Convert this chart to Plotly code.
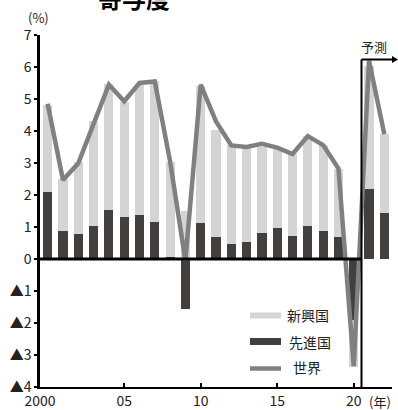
import plotly.graph_objects as go

# Contributions to world real GDP growth (% pts), 2021-22 are forecasts
years = list(range(2000, 2023))
advanced = [2.08, 0.88, 0.77, 1.02, 1.53, 1.32, 1.37, 1.17, 0.06, -1.55,
            1.14, 0.68, 0.47, 0.52, 0.82, 0.97, 0.72, 1.03, 0.88, 0.68,
            -1.90, 2.19, 1.45]
emerging = [2.73, 1.62, 2.25, 3.30, 3.94, 3.60, 4.07, 4.40, 2.98, 1.51,
            4.28, 3.35, 3.09, 2.94, 2.69, 2.49, 2.56, 2.81, 2.68, 2.12,
            -1.47, 3.84, 2.46]
world = [4.85, 2.47, 2.99, 4.25, 5.45, 4.93, 5.50, 5.55, 3.05, -0.05,
         5.45, 4.30, 3.55, 3.50, 3.60, 3.48, 3.28, 3.84, 3.56, 2.83,
         -3.35, 6.20, 3.90]

y_ticks = [-4, -3, -2, -1, 0, 1, 2, 3, 4, 5, 6, 7]
y_labels = ["▲4", "▲3", "▲2", "▲1", "0", "1", "2", "3", "4", "5", "6", "7"]
x_ticks = [1999.5, 2005, 2010, 2015, 2020]
x_labels = ["2000", "05", "10", "15", "20"]

DARK = "#433f3e"
LIGHT = "#d4d4d4"
LINE = "#808080"
TXT = "#222222"
FONT = "Noto Sans CJK JP"

fig = go.Figure()
fig.add_trace(go.Bar(x=years, y=advanced, name="先進国", marker_color=DARK,
                     marker_line_width=0, width=0.6))
fig.add_trace(go.Bar(x=years, y=emerging, name="新興国", marker_color=LIGHT,
                     marker_line_width=0, width=0.6))
fig.add_trace(go.Scatter(x=years, y=world, name="世界", mode="lines",
                         line=dict(color=LINE, width=4.5)))

W, H = 398, 410
L, R, T, B = 40, 6, 35, 23
pw, ph = W - L - R, H - T - B


def px(xp):
    return (xp - L) / pw


def py(yp):
    return (H - B - yp) / ph


shapes = [
    # zero line up to the forecast boundary
    dict(type="line", xref="x", yref="y", x0=1999.5, x1=2020.5, y0=0, y1=0,
         line=dict(color="black", width=3)),
    # forecast bracket
    dict(type="line", xref="paper", yref="paper", x0=px(361.5), x1=px(361.5),
         y0=0, y1=py(59.5), line=dict(color="black", width=2)),
    dict(type="line", xref="paper", yref="paper", x0=px(361.5), x1=px(393),
         y0=py(59.5), y1=py(59.5), line=dict(color="black", width=2)),
    dict(type="path", xref="paper", yref="paper",
         path=f"M {px(392)} {py(56)} L {px(398)} {py(59.5)} L {px(392)} {py(63)} Z",
         fillcolor="black", line=dict(width=0)),
    # legend swatches
    dict(type="rect", xref="paper", yref="paper", x0=px(250), x1=px(281),
         y0=py(318.5), y1=py(312.5), fillcolor=LIGHT, line=dict(width=0)),
    dict(type="rect", xref="paper", yref="paper", x0=px(250), x1=px(281),
         y0=py(345), y1=py(338), fillcolor=DARK, line=dict(width=0)),
    dict(type="line", xref="paper", yref="paper", x0=px(250), x1=px(281),
         y0=py(368.5), y1=py(368.5), line=dict(color=LINE, width=4.5)),
]

annotations = [
    dict(text="<b>寄与度</b>", x=px(134), y=py(-3), xref="paper", yref="paper",
         showarrow=False, font=dict(size=24, color="black", family=FONT),
         xanchor="center", yanchor="middle"),
    dict(text="(%)", x=px(38), y=py(18), xref="paper", yref="paper",
         showarrow=False, font=dict(size=13, color=TXT, family=FONT),
         xanchor="center", yanchor="middle"),
    dict(text="予測", x=px(374), y=py(46), xref="paper", yref="paper",
         showarrow=False, font=dict(size=13, color=TXT, family=FONT),
         xanchor="center", yanchor="middle"),
    dict(text="(年)", x=px(367), y=py(401), xref="paper", yref="paper",
         showarrow=False, font=dict(size=13, color=TXT, family=FONT),
         xanchor="left", yanchor="middle"),
    dict(text="新興国", x=px(285), y=py(315), xref="paper", yref="paper",
         showarrow=False, font=dict(size=14, color=TXT, family=FONT),
         xanchor="left", yanchor="middle"),
    dict(text="先進国", x=px(287), y=py(342), xref="paper", yref="paper",
         showarrow=False, font=dict(size=14, color=TXT, family=FONT),
         xanchor="left", yanchor="middle"),
    dict(text="世界", x=px(291), y=py(367), xref="paper", yref="paper",
         showarrow=False, font=dict(size=14, color=TXT, family=FONT),
         xanchor="left", yanchor="middle"),
]

fig.update_layout(
    width=W, height=H,
    margin=dict(l=L, r=R, t=T, b=B, pad=0, autoexpand=False),
    paper_bgcolor="white", plot_bgcolor="white",
    barmode="relative", bargap=0, showlegend=False,
    font=dict(family=FONT, size=14, color=TXT),
    shapes=shapes, annotations=annotations,
    xaxis=dict(range=[1999.5, 2022.5], tickmode="array", tickvals=x_ticks,
               ticktext=x_labels, ticks="inside", ticklen=4, tickwidth=1.5,
               tickcolor="black", showline=True, linecolor="black",
               linewidth=2, showgrid=False, zeroline=False, automargin=False,
               tickfont=dict(size=14, color=TXT)),
    yaxis=dict(range=[-4, 7], tickmode="array", tickvals=y_ticks,
               ticktext=y_labels, ticks="outside", ticklen=3, tickwidth=1.5,
               tickcolor="black", showline=True, linecolor="black",
               linewidth=2.5, showgrid=False, zeroline=False, automargin=False,
               tickfont=dict(size=14, color=TXT)),
)

fig.write_html("out.html")
